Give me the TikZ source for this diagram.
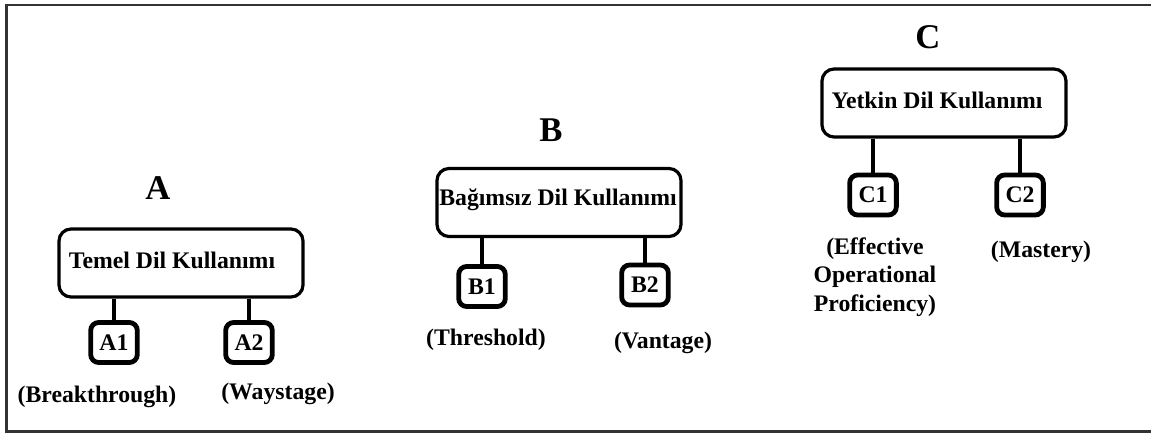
\documentclass[tikz,border=0pt]{standalone}
\usepackage{fontspec}
\setmainfont{Liberation Serif}
\begin{document}
\begin{tikzpicture}[x=0.75pt,y=-0.75pt,
  txt/.style={font=\fontsize{17.8}{20}\selectfont\bfseries, inner sep=0pt},
  big/.style={font=\fontsize{26}{29}\selectfont\bfseries, inner sep=0pt},
  mainbox/.style={draw, line width=2.4pt, rounded corners=9pt, minimum width=183pt, minimum height=51pt},
  subbox/.style={draw, line width=3.6pt, rounded corners=6pt, txt, minimum width=35pt, minimum height=30pt},
  conn/.style={line width=3pt}]
\useasboundingbox (0,0) rectangle (1151,434);
\coordinate (f1) at (1155,5);
\coordinate (f2) at (6.5,5);
\coordinate (f3) at (6.5,431.5);
\coordinate (f4) at (1155,431.5);
\draw[line width=1.6pt, black!80] (f1) -- (f2) -- (f3) -- (f4);
% A
\node[big] (Ah) at (158,188) {A};
\node[mainbox] (Am) at (181,263) {};
\node[txt] (Amt) at (172,260) {Temel Dil Kullanımı};
\node[subbox] (A1) at (114,342.5) {A1};
\node[subbox] (A2) at (249,342.5) {A2};
\draw[conn] (A1.north) -- (A1.north |- Am.south);
\draw[conn] (A2.north) -- (A2.north |- Am.south);
\node[txt] (A1l) at (97,397) {(Breakthrough)};
\node[txt] (A2l) at (278,394) {(Waystage)};
% B
\node[big] (Bh) at (551,130) {B};
\node[mainbox] (Bm) at (559,202.5) {};
\node[txt] (Bmt) at (558,200) {Bağımsız Dil Kullanımı};
\node[subbox] (B1) at (482,286.5) {B1};
\node[subbox] (B2) at (645,285) {B2};
\draw[conn] (B1.north) -- (B1.north |- Bm.south);
\draw[conn] (B2.north) -- (B2.north |- Bm.south);
\node[txt] (B1l) at (486,340) {(Threshold)};
\node[txt] (B2l) at (663,343) {(Vantage)};
% C
\node[big] (Ch) at (928,37) {C};
\node[mainbox] (Cm) at (944,103) {};
\node[txt] (Cmt) at (937,100) {Yetkin Dil Kullanımı};
\node[subbox] (C1) at (873,195) {C1};
\node[subbox] (C2) at (1020,195) {C2};
\draw[conn] (C1.north) -- (C1.north |- Cm.south);
\draw[conn] (C2.north) -- (C2.north |- Cm.south);
\node[txt, font=\fontsize{17.8}{21.5}\selectfont\bfseries, align=center] (C1l) at (875,277) {(Effective\\Operational\\Proficiency)};
\node[txt] (C2l) at (1041,252) {(Mastery)};
\end{tikzpicture}
\end{document}
